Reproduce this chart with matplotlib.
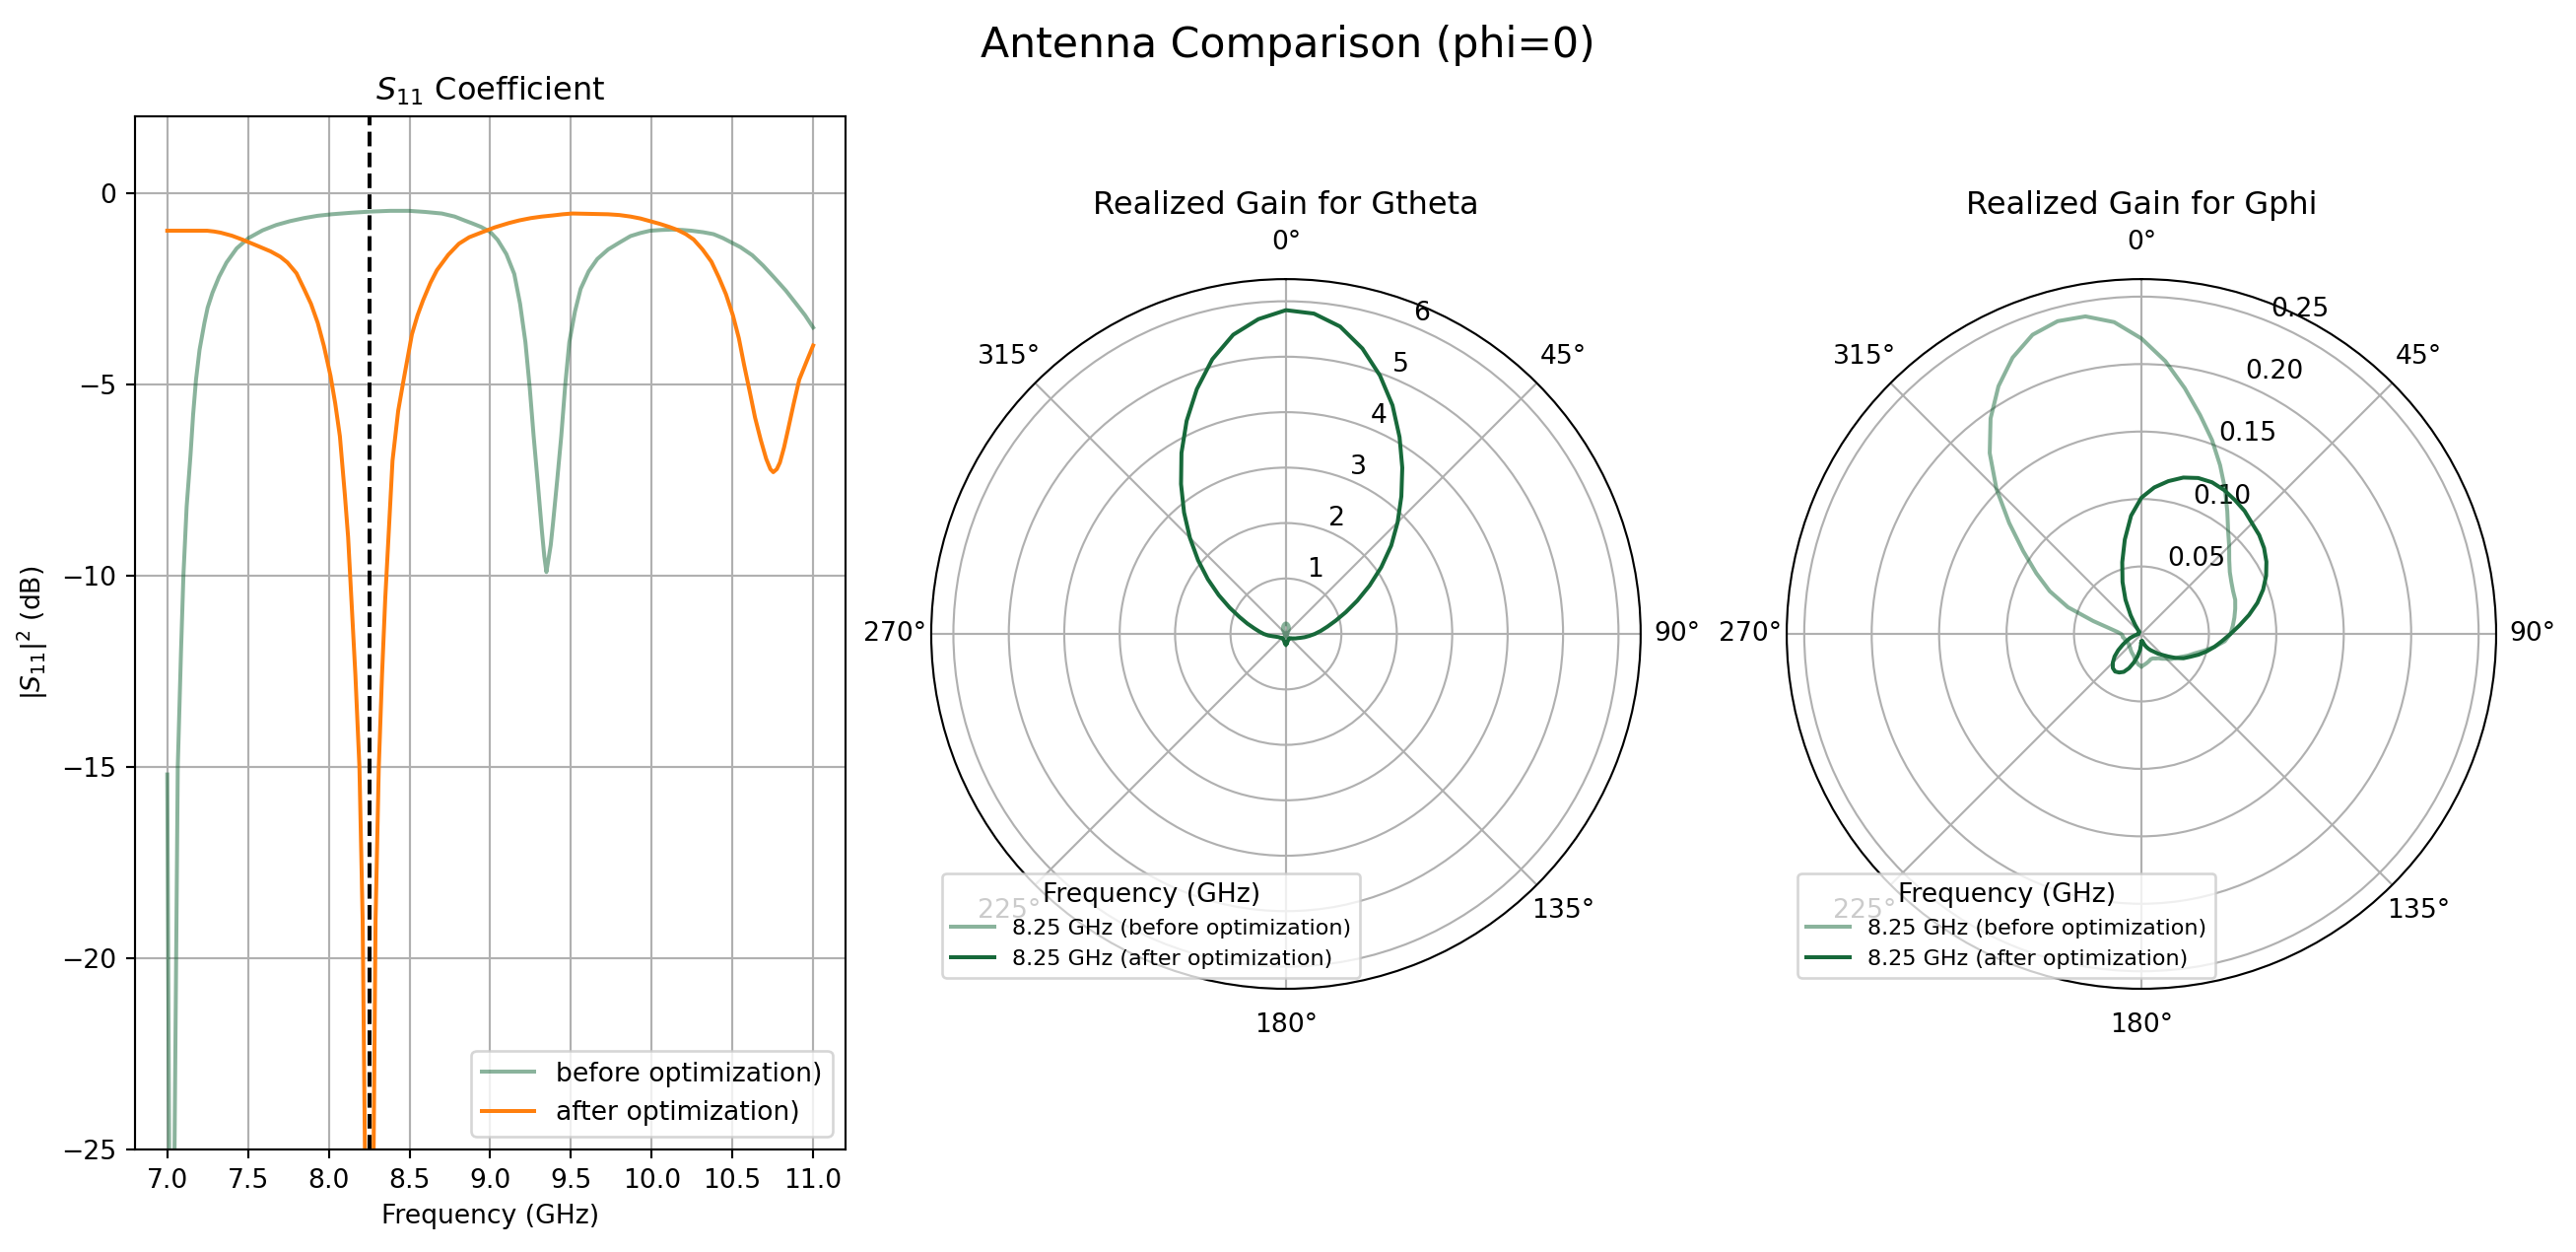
import numpy as np
import matplotlib
matplotlib.use('Agg')
import matplotlib.pyplot as plt

GREEN = '#17693a'

# S11 sweep (GHz, dB)
freq_before = [7.00, 7.02, 7.045, 7.065, 7.085, 7.10, 7.12, 7.144, 7.16, 7.178, 7.20,
               7.23, 7.25, 7.28, 7.32, 7.367, 7.43, 7.504, 7.59, 7.675, 7.76, 7.847,
               7.93, 8.018, 8.14, 8.258, 8.38, 8.498, 8.60, 8.70, 8.78, 8.84, 8.89,
               8.943, 9.00, 9.046, 9.10, 9.149, 9.185, 9.218, 9.245, 9.269, 9.295,
               9.32, 9.335, 9.348, 9.36, 9.375, 9.389, 9.415, 9.44, 9.465, 9.49,
               9.525, 9.56, 9.61, 9.663, 9.73, 9.80, 9.869, 9.93, 9.99, 10.06,
               10.126, 10.19, 10.246, 10.32, 10.383, 10.44, 10.486, 10.55, 10.623,
               10.69, 10.76, 10.83, 10.897, 10.95, 11.0]
s11_before = [-15.2, -32.0, -25.0, -15.0, -12.0, -10.0, -8.2, -6.85, -5.8, -4.88, -4.1,
              -3.40, -3.0, -2.61, -2.2, -1.82, -1.45, -1.18, -0.98, -0.84, -0.74, -0.66,
              -0.60, -0.56, -0.52, -0.49, -0.47, -0.47, -0.50, -0.54, -0.62, -0.72, -0.80,
              -0.89, -1.02, -1.23, -1.60, -2.12, -2.90, -3.90, -5.10, -6.36, -7.60,
              -8.83, -9.50, -9.91, -9.60, -9.20, -8.63, -7.50, -6.36, -5.00, -3.90,
              -3.10, -2.51, -2.05, -1.73, -1.48, -1.30, -1.13, -1.05, -0.99, -0.97,
              -0.96, -0.97, -0.99, -1.03, -1.08, -1.18, -1.28, -1.42, -1.63,
              -1.90, -2.22, -2.55, -2.91, -3.20, -3.52]

freq_after = [7.0, 7.1, 7.2, 7.247, 7.29, 7.33, 7.40, 7.47, 7.55, 7.64, 7.70, 7.744,
              7.80, 7.847, 7.89, 7.932, 7.97, 8.011, 8.04, 8.069, 8.10, 8.12, 8.14,
              8.165, 8.19, 8.21, 8.224, 8.25, 8.278, 8.29, 8.31, 8.33, 8.35, 8.37,
              8.395, 8.43, 8.464, 8.515, 8.55, 8.584, 8.63, 8.67, 8.74, 8.806, 8.87,
              8.943, 9.03, 9.115, 9.18, 9.252, 9.32, 9.389, 9.45, 9.509, 9.62, 9.73,
              9.80, 9.869, 9.93, 9.99, 10.05, 10.109, 10.16, 10.212, 10.26, 10.315,
              10.37, 10.417, 10.46, 10.503, 10.54, 10.572, 10.61, 10.64, 10.675,
              10.709, 10.735, 10.753, 10.775, 10.794, 10.82, 10.846, 10.88, 10.914,
              10.96, 11.0]
s11_after = [-0.99, -0.99, -0.99, -0.99, -1.01, -1.04, -1.12, -1.23, -1.37, -1.53, -1.67, -1.82,
             -2.10, -2.51, -2.90, -3.40, -4.00, -4.78, -5.50, -6.36, -7.90, -9.00, -10.6,
             -12.6, -15.0, -19.0, -25.0, -33.0, -25.0, -19.0, -15.0, -12.6, -10.6, -9.00,
             -7.00, -5.70, -4.88, -3.70, -3.20, -2.81, -2.35, -2.02, -1.62, -1.33, -1.16,
             -1.04, -0.90, -0.79, -0.72, -0.66, -0.62, -0.59, -0.56, -0.54, -0.55, -0.56,
             -0.58, -0.62, -0.67, -0.74, -0.81, -0.89, -0.97, -1.08, -1.22, -1.48,
             -1.80, -2.22, -2.65, -3.20, -3.80, -4.49, -5.25, -5.87, -6.45,
             -6.95, -7.22, -7.30, -7.22, -7.05, -6.65, -6.16, -5.50, -4.88,
             -4.40, -3.99]

f_mark = 8.25

# radiation patterns, theta = -180..180 deg step 5
theta_deg = np.arange(-180, 185, 5)

gtheta_before = [0.04, 0.04, 0.035, 0.03, 0.03,
                 0.02, 0.02, 0.02, 0.02, 0.02, 0.02, 0.02, 0.02, 0.02,
                 0.02, 0.02, 0.02, 0.02, 0.02, 0.02, 0.02, 0.02, 0.02,
                 0.025, 0.03, 0.035, 0.045, 0.055, 0.07, 0.085, 0.105, 0.125,
                 0.145, 0.16, 0.175, 0.185,
                 0.19,
                 0.185, 0.175, 0.16, 0.145, 0.125, 0.105, 0.085, 0.07, 0.055,
                 0.045, 0.035, 0.03, 0.025,
                 0.02, 0.02, 0.02, 0.02, 0.02, 0.02, 0.02, 0.02, 0.02,
                 0.02, 0.02, 0.02, 0.02, 0.02, 0.02, 0.02, 0.02, 0.02,
                 0.03, 0.03, 0.035, 0.04, 0.04]

gtheta_after = [0.19, 0.18, 0.15, 0.13, 0.12, 0.11, 0.10, 0.10, 0.10, 0.10,
                0.11, 0.12, 0.13, 0.14, 0.16, 0.19, 0.24, 0.32, 0.40, 0.48,
                0.58, 0.72, 0.89, 1.12, 1.40, 1.72, 2.07, 2.45, 2.86, 3.30,
                3.77, 4.24, 4.70, 5.13, 5.48, 5.70,
                5.84,
                5.80, 5.63, 5.33, 4.96, 4.55, 4.10, 3.66, 3.24, 2.85, 2.48,
                2.10, 1.74, 1.42, 1.15, 0.93, 0.76, 0.63, 0.52, 0.42, 0.34,
                0.27, 0.22, 0.19, 0.16, 0.14, 0.12, 0.11, 0.10, 0.10, 0.10,
                0.11, 0.12, 0.13, 0.15, 0.18, 0.19]

gphi_before = [0.024, 0.023, 0.021, 0.019, 0.017, 0.016, 0.015, 0.014, 0.013, 0.013,
               0.012, 0.012, 0.012, 0.012, 0.013, 0.013, 0.014, 0.014, 0.015, 0.018,
               0.024, 0.037, 0.058, 0.075, 0.090, 0.107, 0.128, 0.152, 0.175, 0.195,
               0.212, 0.226, 0.236, 0.240, 0.239, 0.232,
               0.219,
               0.203, 0.185, 0.168, 0.153, 0.138, 0.124, 0.111, 0.100, 0.092, 0.085,
               0.080, 0.077, 0.075, 0.074, 0.072, 0.070, 0.068, 0.066, 0.062, 0.055,
               0.048, 0.042, 0.038, 0.034, 0.031, 0.029, 0.026, 0.024, 0.022, 0.021,
               0.020, 0.020, 0.021, 0.022, 0.023, 0.024]

gphi_after = [0.006, 0.012, 0.017, 0.022, 0.027, 0.031, 0.033, 0.034, 0.033, 0.030,
              0.026, 0.021, 0.016, 0.012, 0.009, 0.006, 0.004, 0.003, 0.002, 0.002,
              0.002, 0.002, 0.002, 0.002, 0.002, 0.002, 0.002, 0.002, 0.004, 0.008,
              0.016, 0.028, 0.041, 0.055, 0.071, 0.088,
              0.101,
              0.109, 0.115, 0.120, 0.123, 0.124, 0.123, 0.121, 0.119, 0.116, 0.114,
              0.111, 0.107, 0.102, 0.096, 0.089, 0.081, 0.073, 0.066, 0.060, 0.055,
              0.050, 0.045, 0.040, 0.036, 0.031, 0.026, 0.022, 0.019, 0.016, 0.014,
              0.012, 0.010, 0.008, 0.006, 0.005, 0.006]

DPI = 192
fig = plt.figure(figsize=(2614 / DPI, 1270 / DPI), dpi=DPI)

# S11
ax1 = fig.add_axes([0.0524, 0.0819, 0.2758, 0.8252])
ax1.plot(freq_before, s11_before, color=GREEN, alpha=0.5, label='before optimization)')
ax1.plot(freq_after, s11_after, color='tab:orange', label='after optimization)')
ax1.axvline(f_mark, color='k', linestyle='--')
ax1.set_ylim(-25, 2)
ax1.set_xlabel('Frequency (GHz)')
ax1.set_ylabel('$|S_{11}|^2$ (dB)')
ax1.set_title('$S_{11}$ Coefficient')
ax1.grid(True)
ax1.legend(loc='lower right')

th = np.deg2rad(theta_deg)

# Gtheta
ax2 = fig.add_axes([0.3615, 0.2102, 0.2754, 0.5669], projection='polar')
ax2.set_theta_zero_location('N')
ax2.set_theta_direction(-1)
ax2.plot(th, gtheta_before, color=GREEN, alpha=0.5, label='8.25 GHz (before optimization)')
ax2.plot(th, gtheta_after, color=GREEN, label='8.25 GHz (after optimization)')
ax2.set_rlim(0, 6.4)
ax2.set_title('Realized Gain for Gtheta')
ax2.legend(title='Frequency (GHz)', loc='lower left', fontsize='small')

# Gphi
ax3 = fig.add_axes([0.6936, 0.2102, 0.2754, 0.5669], projection='polar')
ax3.set_theta_zero_location('N')
ax3.set_theta_direction(-1)
ax3.plot(th, gphi_before, color=GREEN, alpha=0.5, label='8.25 GHz (before optimization)')
ax3.plot(th, gphi_after, color=GREEN, label='8.25 GHz (after optimization)')
ax3.set_rlim(0, 0.263)
ax3.set_title('Realized Gain for Gphi')
ax3.legend(title='Frequency (GHz)', loc='lower left', fontsize='small')

fig.suptitle('Antenna Comparison (phi=0)', fontsize=16)

fig.savefig('out.png', dpi=DPI)
